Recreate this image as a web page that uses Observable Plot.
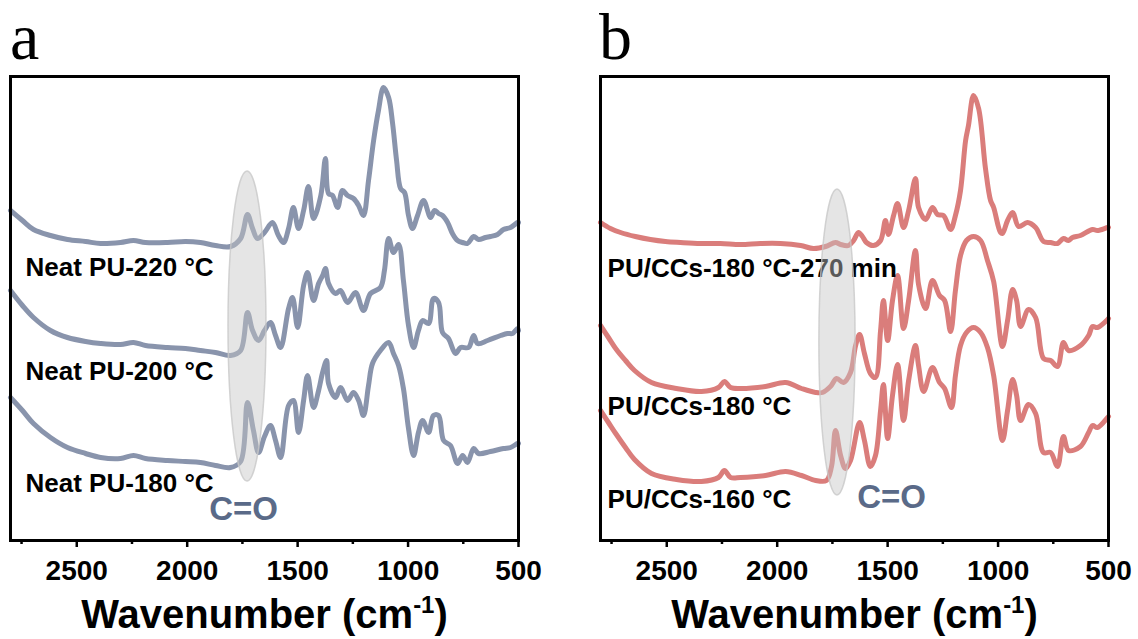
<!DOCTYPE html>
<html><head><meta charset="utf-8">
<script src="https://cdn.jsdelivr.net/npm/d3@7"></script>
<script src="https://cdn.jsdelivr.net/npm/@observablehq/plot@0.6"></script>
<style>
html,body{margin:0;padding:0;background:#fff;}
#wrap{position:relative;width:1138px;height:639px;overflow:hidden;background:#fff;}
.panel{position:absolute;top:0;}
.letter{position:absolute;font-family:"Liberation Serif","Times New Roman",serif;font-size:66px;line-height:1;color:#000;}
</style></head><body><div id="wrap"></div>
<script>
// ---- Data (wavenumber cm^-1, stacked intensity a.u.) ----
const neatPU220 = [[2800,330],[2746,320],[2696,311],[2619,305],[2542,301],[2460,299],[2392,297],[2302,298],[2243,300],[2189,298],[2089,298],[2008,299],[1940,298],[1872,295],[1804,294],[1758,302],[1727,326],[1704,312],[1682,302],[1650,308],[1614,318],[1587,305],[1564,298],[1541,312],[1519,333],[1496,312],[1473,330],[1451,354],[1428,322],[1395,345],[1374,382],[1360,347],[1342,345],[1319,333],[1297,350],[1274,345],[1247,342],[1224,335],[1202,325],[1179,360],[1156,400],[1134,430],[1111,453],[1088,443],[1070,417],[1052,380],[1034,352],[1016,348],[998,325],[980,312],[957,325],[930,340],[898,323],[880,330],[862,327],[844,325],[821,318],[799,307],[776,300],[753,298],[731,297],[703,304],[681,301],[649,303],[627,304],[595,306],[568,311],[536,313],[504,318],[500,318]];
const neatPU200 = [[2800,250],[2746,235],[2696,223],[2619,210],[2542,203],[2460,199],[2392,197],[2302,196],[2243,198],[2189,195],[2089,193],[2008,192],[1940,190],[1872,188],[1804,185],[1758,190],[1727,228],[1704,210],[1677,200],[1650,210],[1623,218],[1600,205],[1577,193],[1541,232],[1523,243],[1500,213],[1473,255],[1455,268],[1428,240],[1405,257],[1387,265],[1374,272],[1360,257],[1328,247],[1306,250],[1274,238],[1238,248],[1202,230],[1170,247],[1125,253],[1107,270],[1088,302],[1066,288],[1043,296],[1021,260],[998,215],[975,193],[953,210],[934,220],[907,217],[885,242],[862,238],[844,208],[817,202],[785,187],[762,193],[726,193],[703,205],[685,197],[640,200],[581,205],[550,207],[527,207],[504,212],[500,210]];
const neatPU180 = [[2800,143],[2746,130],[2696,117],[2619,103],[2542,93],[2460,87],[2392,83],[2302,82],[2243,85],[2189,82],[2089,80],[2008,79],[1940,78],[1872,75],[1804,73],[1758,79],[1727,138],[1700,110],[1677,88],[1650,104],[1623,115],[1600,100],[1577,83],[1541,135],[1519,140],[1496,108],[1473,140],[1455,165],[1428,133],[1405,150],[1387,168],[1369,180],[1360,157],[1328,143],[1306,153],[1274,140],[1247,148],[1224,140],[1202,125],[1179,155],[1161,177],[1125,190],[1088,198],[1066,187],[1043,175],[1021,152],[998,112],[975,85],[953,108],[934,120],[907,108],[885,125],[862,125],[839,100],[808,95],[776,77],[753,85],[731,78],[703,92],[681,87],[627,89],[568,92],[536,93],[504,97],[500,97]];

const pucc180_270 = [[2800,318],[2755,312],[2709,308],[2642,304],[2574,301],[2506,299],[2438,298],[2347,297],[2257,297],[2166,296],[2076,297],[1985,297],[1894,295],[1836,292],[1781,294],[1736,298],[1713,296],[1677,295],[1654,300],[1632,308],[1614,304],[1596,298],[1564,295],[1532,300],[1510,320],[1496,306],[1473,325],[1455,337],[1428,313],[1405,330],[1374,362],[1360,333],[1328,321],[1297,333],[1274,326],[1247,325],[1215,311],[1193,325],[1170,350],[1147,400],[1134,415],[1111,445],[1088,432],[1057,372],[1034,340],[1020,333],[989,308],[980,307],[957,320],[934,328],[907,314],[867,318],[830,313],[794,299],[762,298],[731,297],[704,302],[681,300],[663,303],[627,305],[572,311],[550,310],[504,313],[500,313]];
const pucc180 = [[2800,215],[2764,203],[2728,191],[2687,180],[2646,170],[2569,158],[2456,152],[2343,149],[2266,153],[2239,159],[2211,153],[2166,152],[2053,154],[1962,158],[1890,152],[1826,148],[1795,148],[1759,154],[1731,162],[1700,158],[1668,168],[1645,195],[1627,206],[1605,187],[1578,167],[1555,163],[1532,210],[1519,240],[1500,200],[1478,240],[1455,265],[1428,212],[1405,240],[1374,290],[1360,256],[1328,232],[1297,260],[1265,245],[1242,240],[1215,209],[1193,250],[1170,285],[1143,300],[1111,304],[1079,300],[1048,280],[1020,259],[980,194],[957,220],[934,251],[916,240],[898,214],[862,231],[830,223],[794,182],[762,180],[731,174],[704,198],[681,190],[627,195],[590,205],[572,214],[550,213],[504,221],[500,222]];
const pucc160 = [[2800,130],[2764,118],[2728,106],[2687,93],[2646,81],[2569,67],[2456,61],[2343,59],[2266,63],[2239,70],[2211,63],[2166,63],[2053,65],[1962,69],[1890,65],[1826,60],[1777,60],[1754,74],[1736,110],[1713,85],[1691,72],[1668,80],[1627,118],[1605,100],[1578,74],[1555,85],[1532,130],[1519,156],[1500,102],[1478,145],[1455,176],[1428,120],[1405,160],[1374,195],[1360,175],[1337,149],[1297,173],[1265,158],[1242,152],[1211,133],[1193,165],[1170,195],[1143,208],[1111,213],[1079,208],[1048,193],[1020,165],[980,100],[957,130],[934,161],[916,145],[898,120],[862,136],[830,127],[794,88],[762,88],[731,74],[704,104],[681,90],[627,94],[590,108],[572,115],[550,113],[504,123],[500,124]];

const namesA = ["Neat PU-220 °C", "Neat PU-200 °C", "Neat PU-180 °C"];
const namesB = ["PU/CCs-180 °C-270 min", "PU/CCs-180 °C", "PU/CCs-160 °C"];
const majorTicks = [2500, 2000, 1500, 1000, 500];
const minorTicks = [2750, 2250, 1750, 1250, 750];
const xLabel = "Wavenumber (cm-1)";
const bandLabel = "C=O";

// ---- layout / style ----
const colorA = "#8994ac", colorB = "#da7d7b", bandColor = "#5a6a88";
const FONT = "Liberation Sans, Arial, Helvetica, sans-serif";

function ellipseMark(e) {
  return (index, scales) => {
    const g = d3.create("svg:g");
    const cx = scales.x(e.wn), cy = scales.y(e.v);
    const rx = Math.abs(scales.x(e.wn - e.dwn) - scales.x(e.wn + e.dwn)) / 2;
    const ry = Math.abs(scales.y(e.v + e.dv) - scales.y(e.v - e.dv)) / 2;
    g.append("ellipse").attr("cx", cx).attr("cy", cy).attr("rx", rx).attr("ry", ry)
      .attr("fill", "#c6c6c6").attr("fill-opacity", 0.45)
      .attr("stroke", "#c8c8c8").attr("stroke-opacity", 0.8).attr("stroke-width", 1.5);
    return g.node();
  };
}

function panel(o) {
  const rows = o.series.flatMap((s, k) => s.map(([wn, v]) => ({wn, v, k})));
  const labs = o.names.map((t, i) => ({t, wn: o.labWn, v: o.labV[i]}));
  const svg = Plot.plot({
    width: o.width, height: 639,
    marginLeft: o.ml, marginRight: o.mr, marginTop: 76, marginBottom: 99,
    x: {domain: [2800, 500], axis: null},
    y: {domain: [0, 464], axis: null},
    style: {fontFamily: FONT, background: "transparent", overflow: "visible"},
    marks: [
      Plot.lineY(rows, {x: "wn", y: "v", z: "k", stroke: o.color, strokeWidth: 5,
        curve: "catmull-rom", strokeLinejoin: "round", strokeLinecap: "round"}),
      Plot.text(labs, {x: "wn", y: "v", text: "t", textAnchor: "start", fontSize: 26,
        fontWeight: "bold", fill: "#000", fontFamily: FONT}),
      ellipseMark(o.ell),
      Plot.text([bandLabel], {x: o.coWn, y: o.coV, text: d => d, fontSize: 33,
        fontWeight: "bold", fill: bandColor, fontFamily: FONT}),
      Plot.frame({stroke: "#000", strokeWidth: 3}),
      Plot.axisX({ticks: majorTicks, tickSize: 7, tickPadding: 13, strokeWidth: 2.5,
        fontSize: 28, fontWeight: "bold", fill: "#000", tickFormat: d => String(d), label: null, fontFamily: FONT}),
      Plot.axisX({ticks: minorTicks, tickSize: 4, strokeWidth: 2.5, tickFormat: () => "", label: null}),
      Plot.text([xLabel], {frameAnchor: "bottom", lineAnchor: "middle", dy: 75, text: d => d, fontSize: 40,
        fontWeight: "bold", fill: "#000", fontFamily: FONT})
    ]
  });
  d3.select(svg).selectAll("text").filter(function() { return this.textContent === xLabel; })
    .each(function() {
      const t = d3.select(this);
      t.text(null);
      t.append("tspan").text("Wavenumber (cm");
      t.append("tspan").attr("dy", -15).attr("font-size", 24).text("-1");
      t.append("tspan").attr("dy", 15).text(")");
    });
  return svg;
}

const wrap = document.getElementById("wrap");

const svgA = panel({
  series: [neatPU220, neatPU200, neatPU180], names: namesA, color: colorA,
  width: 560, ml: 10, mr: 42,
  labWn: 2732, labV: [273, 169, 57],
  ell: {wn: 1727, v: 214, dwn: 86, dv: 155},
  coWn: 1745, coV: 31
});
const svgB = panel({
  series: [pucc180_270, pucc180, pucc160], names: namesB, color: colorB,
  width: 578, ml: 40, mr: 30,
  labWn: 2768, labV: [272, 134, 41],
  ell: {wn: 1727, v: 198, dwn: 82, dv: 153},
  coWn: 1482, coV: 43
});

const dA = document.createElement("div"); dA.className = "panel"; dA.style.left = "0px"; dA.appendChild(svgA);
const dB = document.createElement("div"); dB.className = "panel"; dB.style.left = "560px"; dB.appendChild(svgB);
wrap.appendChild(dA); wrap.appendChild(dB);

const la = document.createElement("div"); la.className = "letter"; la.textContent = "a";
la.style.left = "10px"; la.style.top = "4px";
const lb = document.createElement("div"); lb.className = "letter"; lb.textContent = "b";
lb.style.left = "599px"; lb.style.top = "4px";
wrap.appendChild(la); wrap.appendChild(lb);
</script></body></html>
